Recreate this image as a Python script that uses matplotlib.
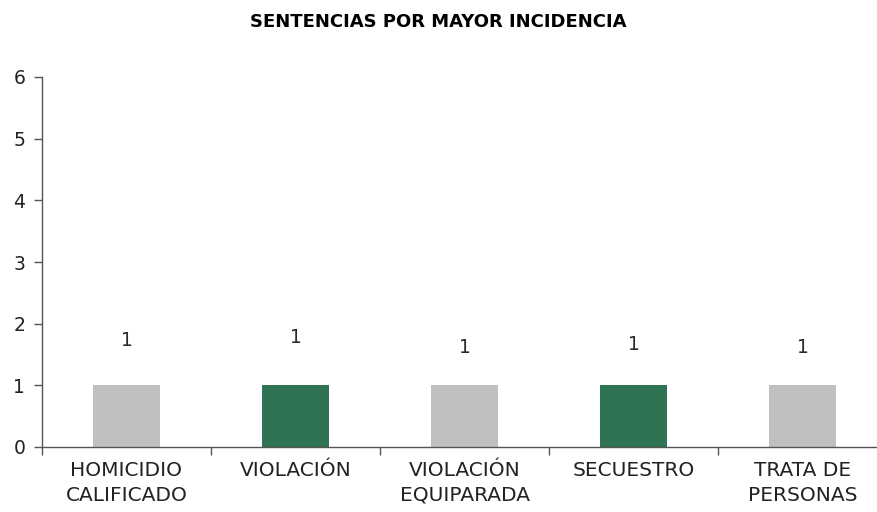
import matplotlib.pyplot as plt

# data
categories = ["HOMICIDIO\nCALIFICADO", "VIOLACIÓN", "VIOLACIÓN\nEQUIPARADA", "SECUESTRO", "TRATA DE\nPERSONAS"]
values = [1, 1, 1, 1, 1]
colors = ["#BFBFBF", "#2E7352", "#BFBFBF", "#2E7352", "#BFBFBF"]
yticks = [0, 1, 2, 3, 4, 5, 6]

# layout: label heights above the bars as drawn in the original
label_offsets = [0.73, 0.78, 0.62, 0.67, 0.62]

plt.rcParams['font.family'] = ['DejaVu Sans']

fig = plt.figure(figsize=(8.77, 5.12), dpi=100)
ax = fig.add_axes([42 / 877, 1 - 447 / 512, 845 / 877, 370 / 512])

x = list(range(len(categories)))
ax.bar(x, values, width=0.4, color=colors, zorder=2)

for xi, v, off in zip(x, values, label_offsets):
    ax.text(xi, v + off, str(v), ha='center', va='center', fontsize=13.5, color='#2a2a2a')

ax.set_xlim(-0.5, len(categories) - 0.5)
ax.set_ylim(0, 6)
ax.set_yticks(yticks)
ax.set_yticklabels([str(t) for t in yticks], fontsize=13.5, color='#222222')

ax.set_xticks(x)
ax.set_xticklabels(categories, fontsize=14.5, linespacing=1.4, color='#222222')
ax.tick_params(axis='x', length=0, pad=10)
ax.set_xticks([i + 0.5 for i in range(len(categories) - 1)] + [-0.5], minor=True)
ax.tick_params(axis='x', which='minor', length=6, width=1, color='#555555', direction='out')
ax.tick_params(axis='y', length=6, width=1, color='#555555', pad=6)

for side in ['top', 'right']:
    ax.spines[side].set_visible(False)
for side in ['left', 'bottom']:
    ax.spines[side].set_color('#555555')
    ax.spines[side].set_linewidth(1)

fig.text(0.5, 1 - 22 / 512, "SENTENCIAS POR MAYOR INCIDENCIA", ha='center', va='center',
         fontsize=13, fontweight='bold')

fig.savefig("out.png", dpi=100)
